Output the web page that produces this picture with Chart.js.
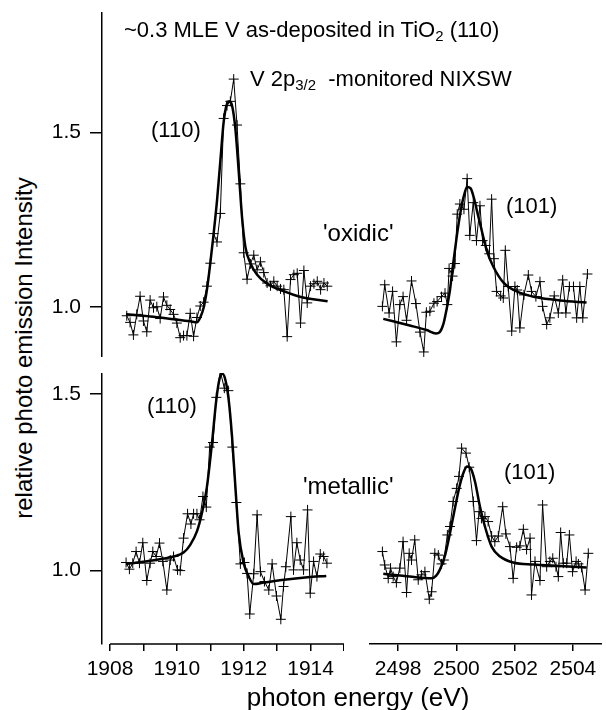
<!DOCTYPE html>
<html>
<head>
<meta charset="utf-8">
<script src="https://cdn.jsdelivr.net/npm/chart.js@4.4.1/dist/chart.umd.min.js"></script>
<style>
  body { margin: 0; background: #fff; }
  #page { position: relative; width: 606px; height: 710px; background: #fff; font-family: "Liberation Sans", Arial, sans-serif; color: #000; }
  canvas { position: absolute; }
  .lbl { position: absolute; white-space: nowrap; font-size: 22px; line-height: 1; transform: translateY(-50%); }
  .lbl sub { font-size: 0.68em; vertical-align: -0.3em; line-height: 0; }
</style>
</head>
<body>
<div id="page">
  <canvas id="oxidic110" width="304" height="345" style="left:40px;top:12px"></canvas>
  <canvas id="oxidic101" width="233" height="345" style="left:369px;top:12px"></canvas>
  <canvas id="metallic110" width="304" height="311" style="left:40px;top:373px"></canvas>
  <canvas id="metallic101" width="233" height="311" style="left:369px;top:373px"></canvas>

  <div class="lbl" style="left:124px;top:30px">~0.3 MLE V as-deposited in TiO<sub>2</sub> (110)</div>
  <div class="lbl" style="left:250px;top:79px">V 2p<sub>3/2</sub>&nbsp; -monitored NIXSW</div>
  <div class="lbl" style="left:151px;top:130px">(110)</div>
  <div class="lbl" style="left:323px;top:233px;font-size:24px">'oxidic'</div>
  <div class="lbl" style="left:506px;top:206px">(101)</div>
  <div class="lbl" style="left:147px;top:406px">(110)</div>
  <div class="lbl" style="left:303px;top:486px;font-size:24px">'metallic'</div>
  <div class="lbl" style="left:504px;top:472px">(101)</div>
  <div class="lbl" style="left:24px;top:348px;font-size:24px;transform:translate(-50%,-50%) rotate(-90deg)">relative photo emission Intensity</div>
  <div class="lbl" style="left:358px;top:697px;font-size:26px;transform:translate(-50%,-50%)">photon energy (eV)</div>
</div>
<script>
// V 2p3/2 NIXSW data, (110) reflection around 1911 eV, (101) around 2500 eV

const oxidic110Energy = [1908.5, 1908.6, 1908.7, 1908.8, 1908.9, 1909.0, 1909.1, 1909.2, 1909.3, 1909.4,
  1909.5, 1909.6, 1909.7, 1909.8, 1909.9, 1910.0, 1910.1, 1910.2, 1910.3, 1910.4,
  1910.5, 1910.6, 1910.7, 1910.8, 1910.9, 1911.0, 1911.1, 1911.2, 1911.3, 1911.4,
  1911.5, 1911.6, 1911.7, 1911.8, 1911.9, 1912.0, 1912.1, 1912.2, 1912.3, 1912.4,
  1912.5, 1912.6, 1912.7, 1912.8, 1912.9, 1913.0, 1913.1, 1913.2, 1913.3, 1913.4,
  1913.5, 1913.6, 1913.7, 1913.8, 1913.9, 1914.0, 1914.1, 1914.2, 1914.3, 1914.4, 1914.5];
const oxidic110Intensity = [0.974, 0.955, 0.919, 0.978, 1.030, 0.959, 0.928, 1.019, 0.997, 1.000,
  0.966, 1.028, 1.004, 0.992, 0.978, 0.953, 0.911, 0.917, 0.917, 0.981,
  0.915, 0.969, 1.002, 1.013, 1.059, 1.125, 1.210, 1.186, 1.268, 1.541,
  1.578, 1.590, 1.654, 1.522, 1.353, 1.155, 1.079, 1.123, 1.148, 1.106,
  1.129, 1.098, 1.068, 1.060, 1.073, 1.059, 1.051, 1.049, 0.914, 1.078,
  1.092, 1.096, 0.953, 1.104, 1.011, 1.059, 1.066, 1.073, 1.049, 1.068, 1.059];
const oxidic110FitEnergy = [1908.48, 1909.2, 1909.9, 1910.4, 1910.6, 1910.7, 1910.8, 1910.9, 1911.0, 1911.1,
  1911.2, 1911.3, 1911.4, 1911.5, 1911.58, 1911.65, 1911.75, 1911.85, 1911.95, 1912.05,
  1912.2, 1912.4, 1912.7, 1913.21, 1913.71, 1914.51];
const oxidic110Fit = [0.978, 0.972, 0.964, 0.958, 0.955, 0.969, 0.997, 1.049, 1.125, 1.210,
  1.304, 1.418, 1.531, 1.583, 1.590, 1.578, 1.512, 1.389, 1.257, 1.172,
  1.125, 1.092, 1.066, 1.044, 1.028, 1.016];

const oxidic101Energy = [2497.46, 2497.54, 2497.69, 2497.81, 2497.94, 2498.06, 2498.17, 2498.29, 2498.46, 2498.61,
  2498.75, 2498.88, 2498.97, 2499.09, 2499.23, 2499.34, 2499.49, 2499.61, 2499.69, 2499.75,
  2499.87, 2499.95, 2500.03, 2500.12, 2500.26, 2500.37, 2500.46, 2500.58, 2500.69, 2500.81,
  2500.90, 2501.01, 2501.13, 2501.21, 2501.29, 2501.38, 2501.52, 2501.61, 2501.68, 2501.78,
  2501.90, 2502.01, 2502.09, 2502.18, 2502.32, 2502.47, 2502.58, 2502.73, 2502.87, 2502.96,
  2503.10, 2503.21, 2503.36, 2503.50, 2503.65, 2503.76, 2503.88, 2504.02, 2504.13, 2504.24,
  2504.34, 2504.50];
const oxidic101Intensity = [1.001, 1.063, 0.982, 1.044, 0.899, 1.006, 1.029, 0.961, 1.074, 1.009,
  0.927, 0.870, 0.984, 0.987, 1.010, 1.015, 1.029, 1.039, 1.006, 1.110,
  1.088, 1.124, 1.266, 1.295, 1.280, 1.368, 1.205, 1.299, 1.190, 1.290,
  1.190, 1.176, 1.152, 1.309, 1.138, 1.044, 1.031, 1.025, 1.162, 1.058,
  0.930, 1.058, 1.048, 0.939, 1.034, 1.091, 1.044, 1.029, 1.072, 1.001,
  0.949, 0.968, 1.031, 0.982, 1.077, 0.982, 1.058, 1.058, 0.968, 1.058,
  0.968, 1.094];
const oxidic101FitEnergy = [2497.49, 2498.4, 2498.98, 2499.3, 2499.43, 2499.55, 2499.66, 2499.78, 2499.89, 2500.01,
  2500.12, 2500.24, 2500.37, 2500.49, 2500.6, 2500.72, 2500.87, 2501.04, 2501.27, 2501.61,
  2502.07, 2502.76, 2503.56, 2504.47];
const oxidic101Fit = [0.965, 0.946, 0.933, 0.923, 0.927, 0.949, 0.991, 1.048, 1.124, 1.200,
  1.261, 1.313, 1.344, 1.340, 1.313, 1.271, 1.219, 1.162, 1.115, 1.070,
  1.044, 1.027, 1.018, 1.012];

const metallic110Energy = [1908.48, 1908.58, 1908.68, 1908.78, 1908.88, 1908.98, 1909.10, 1909.20, 1909.28, 1909.38,
  1909.48, 1909.58, 1909.70, 1909.80, 1909.90, 1910.02, 1910.10, 1910.20, 1910.32, 1910.42,
  1910.50, 1910.60, 1910.68, 1910.78, 1910.88, 1910.98, 1911.08, 1911.18, 1911.30, 1911.42,
  1911.54, 1911.66, 1911.78, 1911.90, 1912.02, 1912.10, 1912.18, 1912.30, 1912.40, 1912.50,
  1912.62, 1912.75, 1912.85, 1912.98, 1913.11, 1913.19, 1913.26, 1913.41, 1913.49, 1913.59,
  1913.69, 1913.79, 1913.91, 1913.99, 1914.09, 1914.19, 1914.29, 1914.39, 1914.49];
const metallic110Intensity = [1.023, 1.004, 1.021, 1.054, 1.021, 1.079, 0.972, 1.021, 1.054, 1.040,
  1.078, 1.026, 0.945, 1.030, 1.040, 1.002, 1.000, 1.092, 1.161, 1.132,
  1.161, 1.161, 1.144, 1.210, 1.180, 1.350, 1.363, 1.491, 1.564, 1.517,
  1.510, 1.350, 1.193, 1.019, 1.023, 0.992, 0.877, 0.991, 1.158, 0.997,
  0.969, 0.945, 1.019, 0.928, 0.862, 0.955, 1.011, 1.153, 1.002, 1.079,
  1.030, 1.002, 1.172, 0.936, 1.026, 0.983, 1.047, 1.040, 1.021];
const metallic110FitEnergy = [1908.48, 1909.2, 1909.9, 1910.2, 1910.4, 1910.6, 1910.75, 1910.9, 1911.05, 1911.18,
  1911.28, 1911.36, 1911.45, 1911.55, 1911.65, 1911.75, 1911.85, 1912.0, 1912.15, 1912.3,
  1912.6, 1913.21, 1913.91, 1914.47];
const metallic110Fit = [1.019, 1.028, 1.040, 1.051, 1.073, 1.111, 1.163, 1.238, 1.361, 1.484,
  1.545, 1.558, 1.541, 1.484, 1.380, 1.238, 1.106, 1.021, 0.983, 0.962,
  0.966, 0.974, 0.981, 0.985];

const metallic101Energy = [2497.46, 2497.54, 2497.66, 2497.74, 2497.83, 2497.94, 2498.06, 2498.17, 2498.29, 2498.38,
  2498.46, 2498.57, 2498.69, 2498.80, 2498.92, 2499.07, 2499.15, 2499.26, 2499.38, 2499.49,
  2499.57, 2499.69, 2499.78, 2499.89, 2500.01, 2500.09, 2500.18, 2500.33, 2500.44, 2500.58,
  2500.69, 2500.78, 2500.86, 2500.98, 2501.09, 2501.21, 2501.32, 2501.44, 2501.59, 2501.70,
  2501.84, 2501.95, 2502.07, 2502.18, 2502.30, 2502.41, 2502.53, 2502.58, 2502.70, 2502.87,
  2502.96, 2503.10, 2503.21, 2503.31, 2503.42, 2503.50, 2503.58, 2503.67, 2503.79, 2503.88,
  2503.99, 2504.11, 2504.19, 2504.30, 2504.42, 2504.53];
const metallic101Intensity = [1.054, 1.016, 0.978, 1.007, 0.983, 0.966, 1.007, 1.082, 0.938, 1.049,
  1.030, 1.087, 0.974, 0.988, 0.997, 0.919, 0.940, 1.049, 1.044, 1.019,
  1.030, 1.101, 1.125, 1.196, 1.233, 1.267, 1.347, 1.333, 1.293, 1.196,
  1.085, 1.167, 1.148, 1.153, 1.139, 1.098, 1.082, 1.098, 1.181, 1.104,
  1.068, 0.978, 1.066, 1.070, 1.117, 1.060, 1.092, 0.931, 1.026, 0.972,
  1.186, 1.011, 1.026, 1.035, 1.011, 0.983, 1.108, 1.021, 1.021, 1.101,
  0.997, 1.026, 1.019, 1.009, 0.945, 1.049];
const metallic101FitEnergy = [2497.49, 2498.4, 2499.15, 2499.3, 2499.43, 2499.6, 2499.78, 2499.95, 2500.12, 2500.26,
  2500.37, 2500.49, 2500.64, 2500.81, 2500.98, 2501.21, 2501.5, 2501.95, 2502.64, 2503.56, 2504.47];
const metallic101Fit = [0.991, 0.983, 0.978, 0.985, 1.002, 1.040, 1.106, 1.177, 1.243, 1.281,
  1.295, 1.290, 1.252, 1.181, 1.125, 1.068, 1.040, 1.023, 1.017, 1.013, 1.009];

// axis ranges and ticks
const range110 = [1907.76, 1915];
const range101 = [2497, 2505];
const axisLine110 = [1908, 1915];
const ticks110 = [1908, 1909, 1910, 1911, 1912, 1913, 1914, 1915];
const ticks101 = [2498, 2500, 2502, 2504];
const rangeOxidic = [0.8555, 1.8468];
const rangeMetallic = [0.792, 1.560];
const intensityTicks = [1.0, 1.5];

const fontFamily = '"Liberation Sans", Arial, sans-serif';

function toPoints(xs, ys) {
  return xs.map((x, i) => ({ x: x, y: ys[i] }));
}

// x axis line of the left panels starts at 1908, not at the plot edge
const shortAxisLine = {
  id: "shortAxisLine",
  afterDraw(chart) {
    if (!chart.options.plugins.shortAxisLine.show) return;
    const { ctx, chartArea, scales } = chart;
    ctx.save();
    ctx.strokeStyle = "#000";
    ctx.lineWidth = 1.5;
    ctx.beginPath();
    ctx.moveTo(scales.x.getPixelForValue(axisLine110[0]), chartArea.bottom);
    ctx.lineTo(scales.x.getPixelForValue(axisLine110[1]), chartArea.bottom);
    ctx.stroke();
    ctx.restore();
  },
};

function makePanel(id, energy, intensity, fitEnergy, fit, xRange, yRange, opts) {
  const showX = opts.xTicks !== null;
  return new Chart(id, {
    type: "scatter",
    data: {
      datasets: [
        {
          data: toPoints(energy, intensity),
          showLine: true,
          borderColor: "#000",
          borderWidth: 1,
          pointStyle: "cross",
          pointRadius: 5,
          pointBorderColor: "#000",
          pointBorderWidth: 1,
        },
        {
          data: toPoints(fitEnergy, fit),
          showLine: true,
          borderColor: "#000",
          borderWidth: 2.5,
          pointRadius: 0,
          cubicInterpolationMode: "monotone",
        },
      ],
    },
    options: {
      responsive: false,
      animation: false,
      events: [],
      layout: { padding: 0, autoPadding: false },
      plugins: {
        legend: { display: false },
        tooltip: { enabled: false },
        shortAxisLine: { show: opts.shortLine },
      },
      scales: {
        x: {
          type: "linear",
          min: xRange[0],
          max: xRange[1],
          display: showX,
          border: { display: !opts.shortLine, color: "#000", width: 1.5 },
          grid: { drawOnChartArea: false, color: "#000", lineWidth: 1.5, tickLength: 7 },
          ticks: {
            color: "#000",
            font: { family: fontFamily, size: 21 },
            padding: 6,
            maxRotation: 0,
            autoSkip: false,
            callback: (v) => (v % 2 === 0 ? String(v) : ""),
          },
          afterBuildTicks: (s) => {
            s.ticks = (opts.xTicks || []).map((v) => ({ value: v }));
          },
          afterFit: (s) => {
            s.height = showX ? 40 : 0;
            s.paddingLeft = 0;
            s.paddingRight = 0;
          },
        },
        y: {
          min: yRange[0],
          max: yRange[1],
          display: opts.showY,
          border: { display: true, color: "#000", width: 1.5 },
          grid: { drawOnChartArea: false, color: "#000", lineWidth: 1.5, tickLength: 12 },
          ticks: {
            color: "#000",
            font: { family: fontFamily, size: 21 },
            padding: 9,
            callback: (v) => v.toFixed(1),
          },
          afterBuildTicks: (s) => {
            s.ticks = intensityTicks.map((v) => ({ value: v }));
          },
          afterFit: (s) => {
            s.width = opts.showY ? 62 : 0;
            s.paddingTop = 0;
            s.paddingBottom = 0;
          },
        },
      },
    },
    plugins: [shortAxisLine],
  });
}

makePanel("oxidic110", oxidic110Energy, oxidic110Intensity, oxidic110FitEnergy, oxidic110Fit,
  range110, rangeOxidic, { xTicks: null, showY: true, shortLine: false });
makePanel("oxidic101", oxidic101Energy, oxidic101Intensity, oxidic101FitEnergy, oxidic101Fit,
  range101, rangeOxidic, { xTicks: null, showY: false, shortLine: false });
makePanel("metallic110", metallic110Energy, metallic110Intensity, metallic110FitEnergy, metallic110Fit,
  range110, rangeMetallic, { xTicks: ticks110, showY: true, shortLine: true });
makePanel("metallic101", metallic101Energy, metallic101Intensity, metallic101FitEnergy, metallic101Fit,
  range101, rangeMetallic, { xTicks: ticks101, showY: false, shortLine: false });
</script>
</body>
</html>
